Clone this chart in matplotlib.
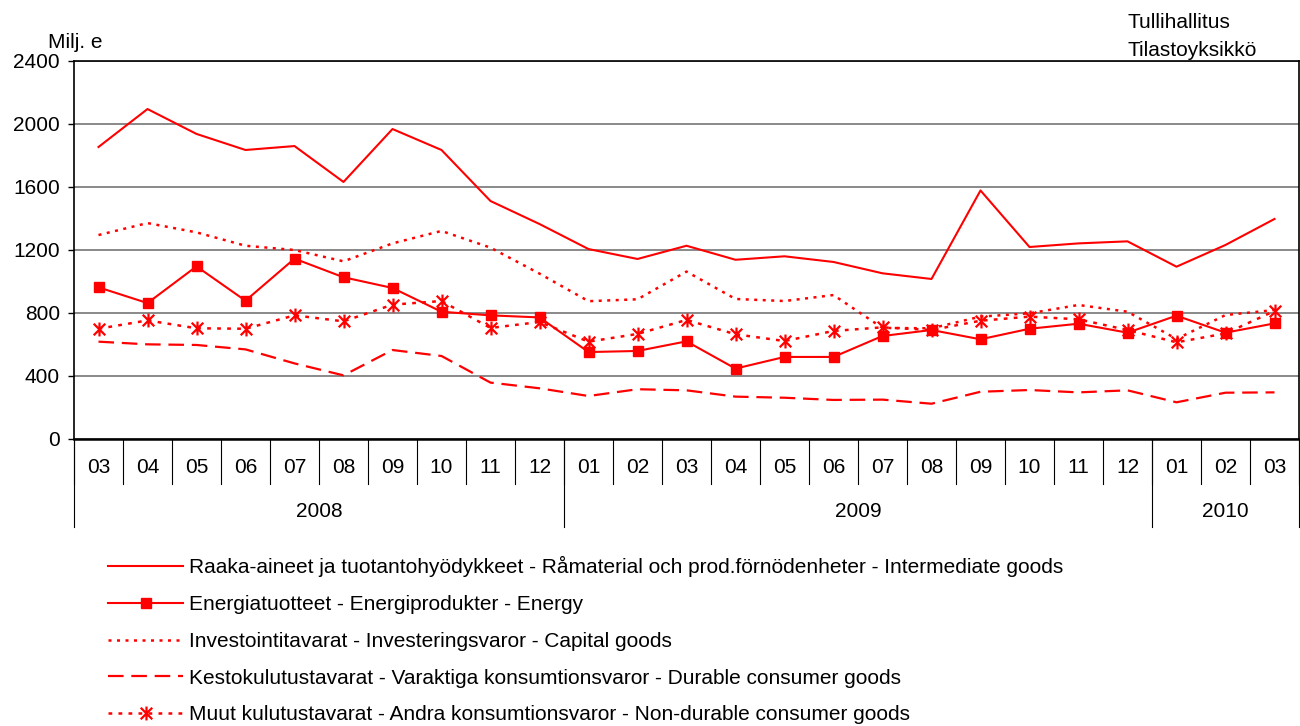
import matplotlib.pyplot as plt
from matplotlib.path import Path


# ==========================
# DATA
# ==========================
kuukaudet = ["03", "04", "05", "06", "07", "08", "09", "10", "11", "12",
             "01", "02", "03", "04", "05", "06", "07", "08", "09", "10", "11", "12",
             "01", "02", "03"]
vuodet = ["2008", "2009", "2010"]
vuosi_kuukausia = [10, 12, 3]

raaka_aineet = [1854, 2095, 1937, 1835, 1860, 1632, 1968, 1835, 1511, 1365,
                1206, 1143, 1227, 1138, 1160, 1124, 1052, 1016, 1578, 1219,
                1242, 1255, 1094, 1232, 1397]
energia = [963, 863, 1096, 878, 1145, 1027, 959, 808, 785, 772,
           552, 559, 620, 447, 521, 521, 654, 692, 633, 700,
           732, 675, 783, 675, 734]
investointi = [1295, 1371, 1312, 1227, 1200, 1128, 1242, 1321, 1215, 1050,
               875, 887, 1063, 889, 876, 914, 705, 703, 777, 798,
               851, 808, 635, 787, 819]
kestokulutus = [618, 601, 597, 569, 480, 404, 565, 527, 358, 322,
                273, 316, 309, 269, 262, 248, 250, 224, 300, 311,
                296, 309, 233, 294, 296]
muut_kulutus = [700, 753, 703, 700, 785, 747, 853, 876, 705, 743,
                618, 667, 756, 665, 622, 686, 709, 692, 751, 777,
                760, 692, 614, 670, 813]

nimet = [
    "Raaka-aineet ja tuotantohyödykkeet - Råmaterial och prod.förnödenheter - Intermediate goods",
    "Energiatuotteet - Energiprodukter - Energy",
    "Investointitavarat - Investeringsvaror - Capital goods",
    "Kestokulutustavarat - Varaktiga konsumtionsvaror - Durable consumer goods",
    "Muut kulutustavarat - Andra konsumtionsvaror - Non-durable consumer goods",
]

punainen = "#FF0000"
koko = 15

# tähti-merkki (x + pystyviiva)
tahti = Path([(-1, -1), (1, 1), (-1, 1), (1, -1), (0, -1.2), (0, 1.2)],
             [Path.MOVETO, Path.LINETO, Path.MOVETO, Path.LINETO, Path.MOVETO, Path.LINETO])

plt.rcParams["font.family"] = ["Liberation Sans", "DejaVu Sans"]

# ==========================
# KUVA
# ==========================
fig = plt.figure(figsize=(13, 7.26), dpi=100)
ax = fig.add_axes([74 / 1300, 1 - 439 / 726, 1225 / 1300, 378 / 726])

x = list(range(len(kuukaudet)))

ax.plot(x, raaka_aineet, color=punainen, lw=1.5, label=nimet[0], zorder=3)
ax.plot(x, energia, color=punainen, lw=1.5, marker="s", markersize=7,
        label=nimet[1], zorder=3)
ax.plot(x, investointi, color=punainen, lw=1.8, linestyle=(0, (1.2, 2.2)),
        label=nimet[2], zorder=3)
ax.plot(x, kestokulutus, color=punainen, lw=1.6, linestyle=(0, (7, 3.5)),
        label=nimet[3], zorder=3)
ax.plot(x, muut_kulutus, color=punainen, lw=1.8, linestyle=(0, (1.5, 2.5)),
        marker=tahti, markersize=10, markeredgewidth=1.6, markerfacecolor="none",
        label=nimet[4], zorder=3)

ax.set_xlim(-0.5, len(kuukaudet) - 0.5)
ax.set_ylim(0, 2400)
ax.set_yticks([0, 400, 800, 1200, 1600, 2000, 2400])
ax.tick_params(axis="y", labelsize=koko, length=4, width=1, pad=6)
ax.set_xticks([])
ax.grid(axis="y", color="#808080", lw=1.3, zorder=1)
ax.set_axisbelow(True)
for s in ax.spines.values():
    s.set_linewidth(1.2)
ax.spines["bottom"].set_linewidth(1.8)

# kuukausi- ja vuosirivit akselin alla
tr = ax.get_xaxis_transform()
for i in range(len(kuukaudet) + 1):
    ax.plot([i - 0.5, i - 0.5], [0, -0.119], color="black", lw=0.8,
            transform=tr, clip_on=False)
for i, k in enumerate(kuukaudet):
    ax.text(i, -0.076, k, transform=tr, ha="center", va="center", fontsize=koko)

alku = -0.5
ax.plot([alku, alku], [0, -0.233], color="black", lw=0.8, transform=tr, clip_on=False)
for v, n in zip(vuodet, vuosi_kuukausia):
    loppu = alku + n
    ax.plot([loppu, loppu], [0, -0.233], color="black", lw=0.8,
            transform=tr, clip_on=False)
    ax.text((alku + loppu) / 2, -0.193, v, transform=tr, ha="center",
            va="center", fontsize=koko)
    alku = loppu

# tekstit
fig.text(48 / 1300, 1 - 42 / 726, "Milj. e", fontsize=koko, va="center")
fig.text(1127 / 1300, 1 - 22 / 726, "Tullihallitus", fontsize=koko, va="center")
fig.text(1127 / 1300, 1 - 50 / 726, "Tilastoyksikkö", fontsize=koko, va="center")

# selite
fig.legend(loc="upper left", bbox_to_anchor=(100 / 1300, 1 - 548 / 726),
           frameon=False, fontsize=koko, handlelength=3.6, handletextpad=0.25,
           labelspacing=0.85, borderaxespad=0)

fig.savefig("out.png", dpi=100)
